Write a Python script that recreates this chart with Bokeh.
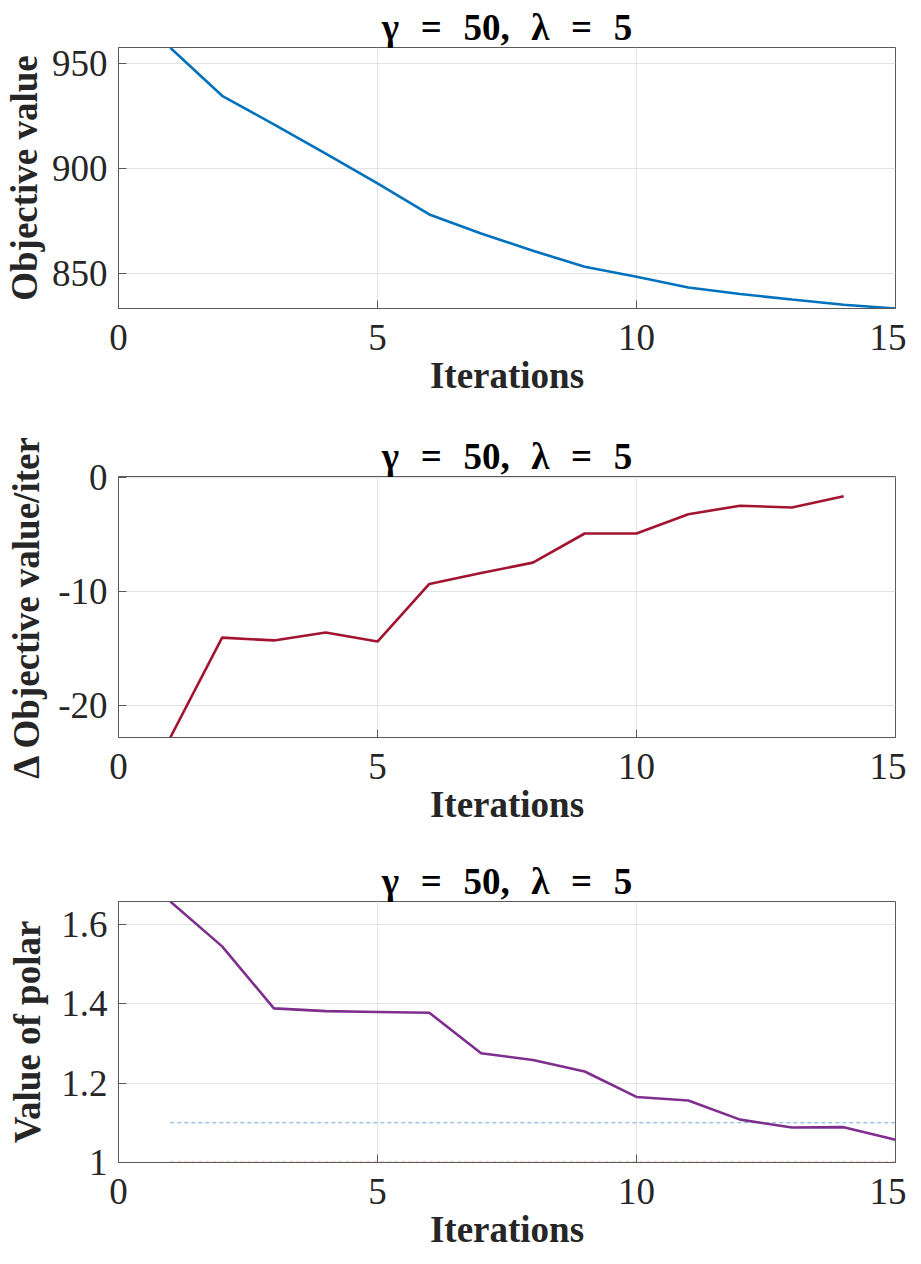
from bokeh.plotting import figure
from bokeh.layouts import column
from bokeh.models import Range1d, FixedTicker, CustomJSTickFormatter
from bokeh.embed import file_html
from bokeh.resources import INLINE

# ---- data ----
iters = [1, 2, 3, 4, 5, 6, 7, 8, 9, 10, 11, 12, 13, 14, 15]
objective = [957.5, 934.6, 921.0, 907.1, 892.9, 878.1, 869.0, 860.8, 853.2,
             848.4, 843.3, 840.2, 837.6, 835.1, 833.3]
delta_iters = [1, 2, 3, 4, 5, 6, 7, 8, 9, 10, 11, 12, 13, 14]
delta_obj = [-22.8, -14.06, -14.3, -13.6, -14.4, -9.36, -8.4, -7.49, -4.94,
             -4.94, -3.25, -2.51, -2.66, -1.67]
polar = [1.657, 1.544, 1.388, 1.381, 1.379, 1.377, 1.275, 1.258, 1.229,
         1.165, 1.156, 1.108, 1.088, 1.089, 1.057]
thresh_hi = [1.1] * 15
thresh_lo = [1.0] * 15

x_ticks = [0, 5, 10, 15]
SP = "\u2002\u200a"
title_text = "γ" + SP + "=" + SP + "50," + SP + "λ" + SP + "=" + SP + "5"

FONT = "Liberation Serif"
TXT = "#262626"

fmt = CustomJSTickFormatter(code="return String(Math.round(tick*100)/100);")


def make_fig(ylabel, yr, yticks, top, bottom, ystandoff):
    p = figure(width=905, height=top + 261 + bottom, output_backend="svg",
               toolbar_location=None, x_range=Range1d(0, 15), y_range=yr,
               min_border_left=118, min_border_right=11,
               min_border_top=top, min_border_bottom=bottom,
               frame_width=777, frame_height=261)
    p.title.text = title_text
    p.title.align = "center"
    p.title.text_font = FONT
    p.title.text_font_size = "37px"
    p.title.text_font_style = "bold"
    p.title.text_color = "black"
    p.title.standoff = 0
    p.title.offset = 0
    p.outline_line_color = "#5a5a5a"
    p.outline_line_width = 1
    p.background_fill_color = "white"
    p.border_fill_color = "white"
    for ax in (p.xaxis[0], p.yaxis[0]):
        ax.major_label_text_font = FONT
        ax.major_label_text_font_size = "37px"
        ax.major_label_text_color = TXT
        ax.axis_label_text_font = FONT
        ax.axis_label_text_font_size = "37px"
        ax.axis_label_text_font_style = "bold"
        ax.axis_label_text_color = TXT
        ax.axis_line_color = "#5a5a5a"
        ax.major_tick_line_color = "#5a5a5a"
        ax.major_tick_in = 8
        ax.major_tick_out = 0
        ax.minor_tick_line_color = None
        ax.formatter = fmt
    p.xaxis.ticker = FixedTicker(ticks=x_ticks)
    p.yaxis.ticker = FixedTicker(ticks=yticks)
    p.xaxis.axis_label = "Iterations"
    p.xaxis.major_label_standoff = 16
    p.xaxis.axis_label_standoff = 2
    p.yaxis.axis_label = ylabel
    p.yaxis.major_label_standoff = 11
    p.yaxis.axis_label_standoff = ystandoff
    p.grid.grid_line_color = "#e3e3e3"
    p.grid.grid_line_width = 1
    return p


p1 = make_fig("Objective value", Range1d(833.3, 957.6), [850, 900, 950], 47, 112, 4)
p1.line(iters, objective, line_color="#0072BD", line_width=2.6)

p2 = make_fig("Δ Objective value/iter", Range1d(-22.8, 0.05), [-20, -10, 0], 56, 111, 8)
p2.line(delta_iters, delta_obj, line_color="#A2142F", line_width=2.6)

p3 = make_fig("Value of polar", Range1d(1.0, 1.657), [1.0, 1.2, 1.4, 1.6], 53, 90, 10)
p3.line(iters, thresh_hi, line_color="#6fa8dc", line_width=1, line_dash="4 3")
p3.line(iters, thresh_lo, line_color="#D95319", line_width=1.5, line_dash="4 3")
p3.line(iters, polar, line_color="#7E2F8E", line_width=2.6)

layout = column(p1, p2, p3, spacing=0)
open("out.html", "w").write(file_html(layout, INLINE))
